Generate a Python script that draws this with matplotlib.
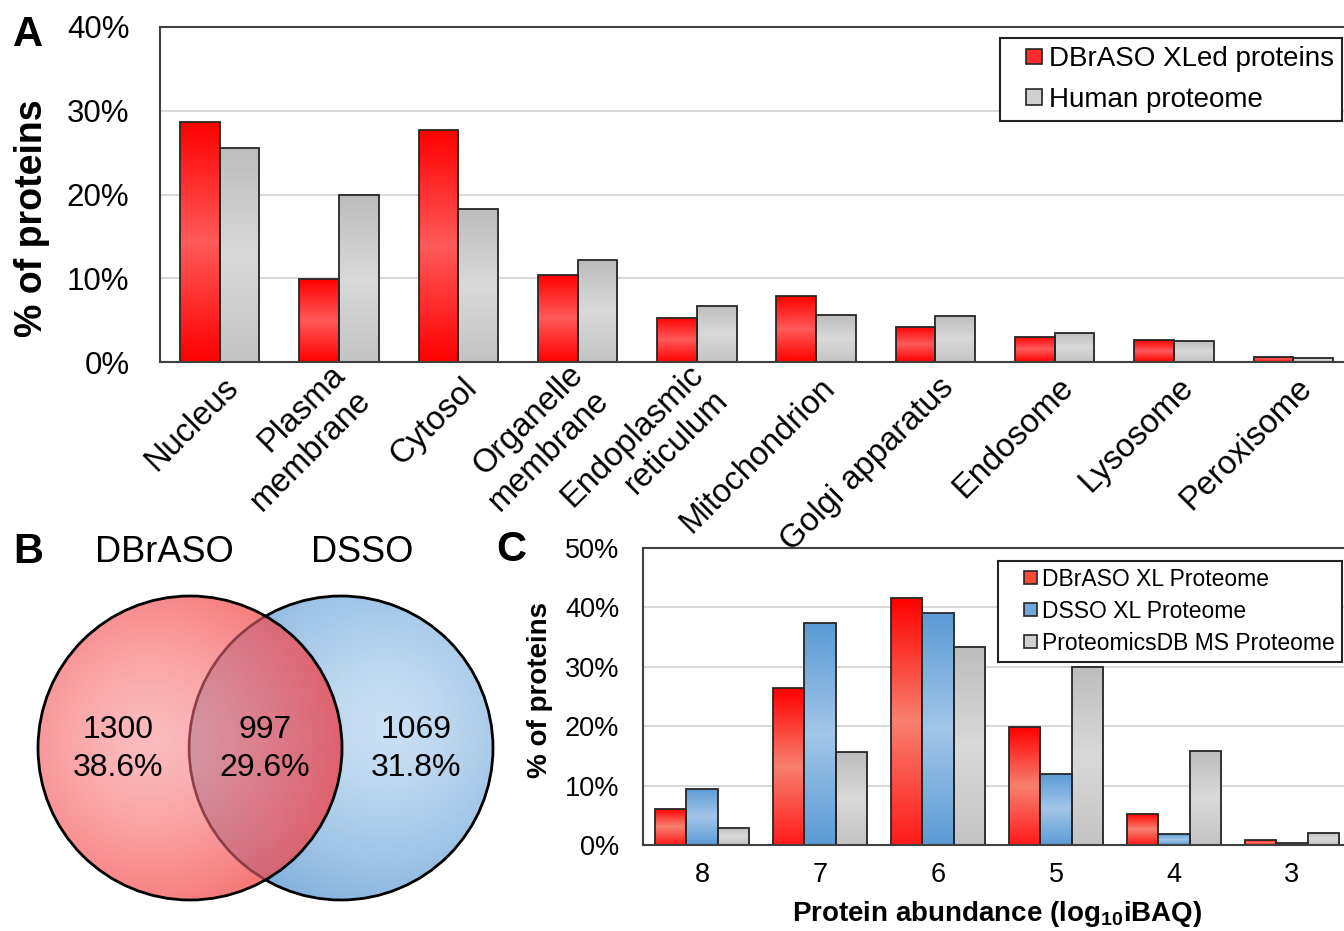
import numpy as np
import matplotlib
matplotlib.use('Agg')
import matplotlib.pyplot as plt
import matplotlib.transforms as mtransforms
from matplotlib.colors import LinearSegmentedColormap
from matplotlib.patches import Patch, Circle, Rectangle
from matplotlib.legend_handler import HandlerPatch
from matplotlib.ticker import PercentFormatter

plt.rcParams['font.family'] = ['Liberation Sans', 'DejaVu Sans']
plt.rcParams['mathtext.fontset'] = 'custom'
plt.rcParams['mathtext.rm'] = 'Liberation Sans'
plt.rcParams['mathtext.bf'] = 'Liberation Sans:bold'

# ---- panel A: subcellular location
locations = ['Nucleus', 'Plasma\nmembrane', 'Cytosol', 'Organelle\nmembrane',
             'Endoplasmic\nreticulum', 'Mitochondrion', 'Golgi apparatus',
             'Endosome', 'Lysosome', 'Peroxisome']
xled_pct = [28.6, 9.9, 27.7, 10.4, 5.3, 7.85, 4.2, 3.0, 2.6, 0.65]
human_pct = [25.6, 19.9, 18.3, 12.2, 6.7, 5.6, 5.5, 3.5, 2.5, 0.5]

# ---- panel B: overlap of identified proteins
venn_names = ['DBrASO', 'DSSO']
venn_counts = [1300, 997, 1069]   # DBrASO only, both, DSSO only

# ---- panel C: abundance distribution
abundance = ['8', '7', '6', '5', '4', '3']
dbraso_pct = [6.1, 26.4, 41.6, 19.8, 5.3, 0.8]
dsso_pct = [9.5, 37.3, 39.0, 12.0, 1.85, 0.4]
pdb_pct = [2.9, 15.7, 33.3, 30.0, 15.9, 2.1]

W, H = 1344, 931
fig = plt.figure(figsize=(W / 100, H / 100), dpi=100)


def box(l, t, r, b):
    return [l / W, 1 - b / H, (r - l) / W, (b - t) / H]


def fpos(x, y):
    return x / W, 1 - y / H


def shade(ax, bars, colors):
    cmap = LinearSegmentedColormap.from_list('g', colors)
    grad = np.linspace(0, 1, 200).reshape(-1, 1)
    for b in bars:
        x0, y0 = b.get_xy()
        w, h = b.get_width(), b.get_height()
        im = ax.imshow(grad, cmap=cmap, extent=(x0, x0 + w, y0, y0 + h),
                       origin='upper', aspect='auto', zorder=1.5,
                       interpolation='bilinear')
        im.set_clip_path(b)
        b.set_facecolor('none')


def style_axes(ax):
    ax.set_axisbelow(True)
    ax.yaxis.grid(True, color='#d9d9d9', lw=1.5)
    for s in ax.spines.values():
        s.set_color('#404040')
        s.set_linewidth(1.5)
    ax.yaxis.set_major_formatter(PercentFormatter(decimals=0))


def right_square(legend, orig_handle, xdescent, ydescent, width, height, fontsize):
    # small square pushed to the right end of the handle box
    return Rectangle((-xdescent + width - height, -ydescent), height, height)


edge = '#262626'
red_g = ['#ff0000', '#ff5a5a', '#ff0000']
gray_g = ['#bdbdbd', '#d9d9d9', '#c4c4c4']
hmap = {Patch: HandlerPatch(patch_func=right_square)}

# ================= A
axA = fig.add_axes(box(160, 27, 1353, 362))
x = np.arange(len(locations))
bw = 0.333
b1 = axA.bar(x - bw / 2, xled_pct, bw, edgecolor=edge, lw=1.3, zorder=2)
b2 = axA.bar(x + bw / 2, human_pct, bw, edgecolor=edge, lw=1.3, zorder=2)
shade(axA, b1, red_g)
shade(axA, b2, gray_g)
style_axes(axA)
axA.set_xlim(-0.5, len(locations) - 0.5)
axA.set_ylim(0, 40)
axA.set_yticks([0, 10, 20, 30, 40])
axA.tick_params(axis='y', length=0, pad=22, labelsize=22.5)
axA.set_xticks(x)
axA.set_xticklabels(locations, rotation=45, ha='right', va='center',
                    rotation_mode='anchor', fontsize=23.5, multialignment='right')
axA.tick_params(axis='x', length=0, pad=15)
off = mtransforms.ScaledTranslation(14 / 100, 0, fig.dpi_scale_trans)
for lbl in axA.get_xticklabels():
    lbl.set_transform(lbl.get_transform() + off)
fig.text(*fpos(32, 218), '% of proteins', rotation=90, fontsize=27,
         fontweight='bold', ha='center', va='center')
legA = axA.legend(handles=[Patch(fc='#ff2c2c', ec=edge, lw=1.2),
                           Patch(fc='#d0d0d0', ec=edge, lw=1.2)],
                  labels=['DBrASO XLed proteins', 'Human proteome'],
                  handler_map=hmap,
                  loc='upper right', bbox_to_anchor=fpos(1342, 38),
                  bbox_transform=fig.transFigure, fontsize=20, fancybox=False,
                  edgecolor='#222222', framealpha=1, borderpad=0.3,
                  handlelength=1.2, handleheight=0.5, handletextpad=0.25,
                  labelspacing=0.53, borderaxespad=0)
legA.get_frame().set_linewidth(1.5)

# ================= B
axB = fig.add_axes(box(0, 520, 520, 931))
axB.set_xlim(0, 520)
axB.set_ylim(931, 520)
xs = np.arange(0, 520) + 0.5
ys = np.arange(520, 931) + 0.5
X, Y = np.meshgrid(xs, ys)
rc, bc, r = (190, 748), (341, 748), 152


def radial(cx, cy, rad, c0, c1, p=1.4):
    t = np.clip(np.hypot(X - cx, Y - cy) / rad, 0, 1)[..., None] ** p
    return np.array(c0) * (1 - t) + np.array(c1) * t


blue = radial(385, 725, 200, (202, 224, 243), (128, 176, 221))
circ_b = Circle(bc, r, fc='none', ec='black', lw=2, zorder=2)
axB.add_patch(circ_b)
im_b = axB.imshow(blue / 255, extent=(0, 520, 931, 520), origin='upper', zorder=1)
im_b.set_clip_path(circ_b)

redc = radial(150, 740, 190, (251, 188, 190), (246, 112, 112))
target = radial(150, 740, 190, (214, 156, 170), (224, 98, 112), p=1.3)
a = 0.65
inside_b = np.hypot(X - bc[0], Y - bc[1]) <= r
over = np.clip((target - (1 - a) * blue) / a, 0, 255)
rgba = np.ones(X.shape + (4,))
rgba[..., :3] = np.where(inside_b[..., None], over, redc) / 255
rgba[..., 3] = np.where(inside_b, a, 1.0)
circ_r = Circle(rc, r, fc='none', ec='black', lw=2, zorder=4)
axB.add_patch(circ_r)
im_r = axB.imshow(rgba, extent=(0, 520, 931, 520), origin='upper', zorder=3)
im_r.set_clip_path(circ_r)
# blue outline seen through the red circle
arc = Circle(bc, r, fc='none', ec='#8e3f4a', lw=1.8, zorder=3.5)
axB.add_patch(arc)
arc.set_clip_path(circ_r)
axB.set_xlim(0, 520)
axB.set_ylim(931, 520)
axB.axis('off')

total = sum(venn_counts)
for cx, n in zip([118, 265, 416], venn_counts):
    axB.text(cx, 730, f'{n}', fontsize=23, ha='center', va='center', zorder=5)
    axB.text(cx, 768, f'{n / total * 100:.1f}%', fontsize=23, ha='center',
             va='center', zorder=5)
fig.text(*fpos(164, 553), venn_names[0], fontsize=26, ha='center', va='center')
fig.text(*fpos(362, 553), venn_names[1], fontsize=26, ha='center', va='center')

# ================= C
axC = fig.add_axes(box(643, 548, 1351, 845))
xc = np.arange(len(abundance))
cw = 0.267
c1 = axC.bar(xc - cw, dbraso_pct, cw, edgecolor=edge, lw=1.3, zorder=2)
c2 = axC.bar(xc, dsso_pct, cw, edgecolor=edge, lw=1.3, zorder=2)
c3 = axC.bar(xc + cw, pdb_pct, cw, edgecolor=edge, lw=1.3, zorder=2)
shade(axC, c1, ['#ff0000', '#f8806f', '#ff1a1a'])
shade(axC, c2, ['#5b9bd5', '#a3c6e9', '#5b9bd5'])
shade(axC, c3, gray_g)
style_axes(axC)
axC.set_xlim(-0.5, len(abundance) - 0.5)
axC.set_ylim(0, 50)
axC.set_yticks(range(0, 51, 10))
axC.set_xticks(xc)
axC.set_xticklabels(abundance)
axC.tick_params(axis='y', length=0, pad=17, labelsize=19.5)
axC.tick_params(axis='x', length=0, pad=12, labelsize=19.5)
fig.text(*fpos(540, 690), '% of proteins', rotation=90, fontsize=20,
         fontweight='bold', ha='center', va='center')
fig.text(*fpos(997, 914), r'Protein abundance (log$_{\mathbf{10}}$iBAQ)',
         fontsize=20, fontweight='bold', ha='center', va='center')
legC = axC.legend(handles=[Patch(fc='#ff4a3a', ec=edge, lw=1.2),
                           Patch(fc='#6fa8dc', ec=edge, lw=1.2),
                           Patch(fc='#d0d0d0', ec=edge, lw=1.2)],
                  labels=['DBrASO XL Proteome', 'DSSO XL Proteome',
                          'ProteomicsDB MS Proteome'],
                  handler_map=hmap,
                  loc='upper right', bbox_to_anchor=fpos(1342, 561),
                  bbox_transform=fig.transFigure, fontsize=16.5, fancybox=False,
                  edgecolor='#222222', framealpha=1, borderpad=0.3,
                  handlelength=1.4, handleheight=0.52, handletextpad=0.22,
                  labelspacing=0.39, borderaxespad=0)
legC.get_frame().set_linewidth(1.5)

for lab, (px, py) in zip('ABC', [(28, 35), (28, 552), (511, 550)]):
    fig.text(*fpos(px, py), lab, fontsize=30, fontweight='bold',
             ha='center', va='center')

fig.savefig('out.png', dpi=100)
